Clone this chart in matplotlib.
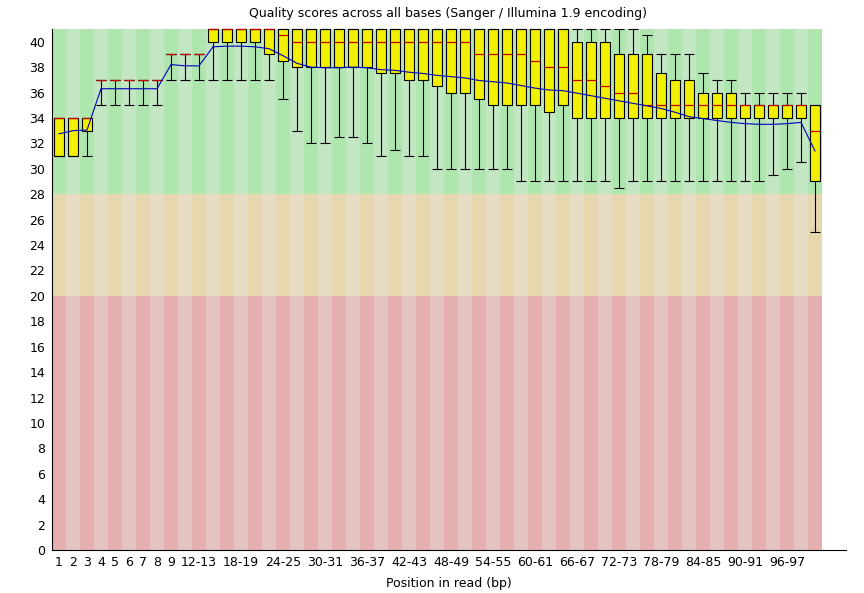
import matplotlib
matplotlib.use("Agg")
import matplotlib.pyplot as plt
import numpy as np

# etichette delle posizioni (1..9 singole, poi a coppie, ultima 100)
POSIZIONI = [str(i) for i in range(1, 10)] + [f"{a}-{a + 1}" for a in range(10, 99, 2)] + ["100"]

# percentili per posizione
P10 = [31, 31, 31, 35, 35, 35, 35, 35, 37, 37, 37, 37, 37, 37, 37, 37, 35.5, 33, 32, 32,
       32.5, 32.5, 32, 31, 31.5, 31, 31, 30, 30, 30, 30, 30, 30, 29, 29, 29, 29, 29, 29, 29,
       28.5, 29, 29, 29, 29, 29, 29, 29, 29, 29, 29, 29.5, 30, 30.5, 25]
Q1 = [31, 31, 33, 37, 37, 37, 37, 37, 39, 39, 39, 40, 40, 40, 40, 39, 38.5, 38, 38, 38,
      38, 38, 38, 37.5, 37.5, 37, 37, 36.5, 36, 36, 35.5, 35, 35, 35, 35, 34.5, 35, 34, 34, 34,
      34, 34, 34, 34, 34, 34, 34, 34, 34, 34, 34, 34, 34, 34, 29]
MEDIANA = [34, 34, 34, 37, 37, 37, 37, 37, 39, 39, 39, 41, 41, 41, 41, 41, 40.5, 40, 40, 40,
           40, 40, 40, 40, 40, 40, 40, 40, 40, 40, 39, 39, 39, 39, 38.5, 38, 38, 37, 37, 36.5,
           36, 36, 35, 35, 35, 35, 35, 35, 35, 35, 35, 35, 35, 35, 33]
Q3 = [34, 34, 34, 37, 37, 37, 37, 37, 39, 39, 39, 41, 41, 41, 41, 41, 41, 41, 41, 41,
      41, 41, 41, 41, 41, 41, 41, 41, 41, 41, 41, 41, 41, 41, 41, 41, 41, 40, 40, 40,
      39, 39, 39, 37.5, 37, 37, 36, 36, 36, 35, 35, 35, 35, 35, 35]
P90 = [34, 34, 34, 37, 37, 37, 37, 37, 39, 39, 39, 41, 41, 41, 41, 41, 41, 41, 41, 41,
       41, 41, 41, 41, 41, 41, 41, 41, 41, 41, 41, 41, 41, 41, 41, 41, 41, 41, 41, 41,
       41, 41, 40.5, 39, 39, 39, 37.5, 37, 37, 36, 36, 36, 36, 36, 35]
MEDIA = [32.75, 33.0, 33.05, 36.3, 36.3, 36.3, 36.3, 36.3, 38.2, 38.1, 38.1, 39.6, 39.65, 39.65, 39.6,
         39.45, 38.9, 38.3, 38.0, 37.95, 37.95, 38.0, 37.95, 37.8, 37.75, 37.6, 37.5, 37.35, 37.25, 37.15,
         36.95, 36.85, 36.75, 36.55, 36.35, 36.2, 36.15, 35.95, 35.75, 35.55, 35.35, 35.15, 34.95, 34.75,
         34.45, 34.1, 33.95, 33.8, 33.65, 33.55, 33.5, 33.5, 33.55, 33.65, 31.4]

# fasce di sfondo: (da, a, colore scuro, colore chiaro)
FASCE = [(28, 41, "#afe6af", "#c3e6c3"),
         (20, 28, "#e6d7af", "#e6dcc3"),
         (0, 20, "#e6afaf", "#e6c3c3")]

x = np.arange(len(POSIZIONI))
w = 0.72

fig = plt.figure(figsize=(8.64, 5.93), dpi=100)
ax = fig.add_axes([52 / 864, 1 - 550 / 593, (846 - 52) / 864, (550 - 29) / 593])

for lo, hi, scuro, chiaro in FASCE:
    colori = [scuro if i % 2 == 0 else chiaro for i in x]
    ax.bar(x, hi - lo, bottom=lo, width=1.0, color=colori, linewidth=0, zorder=0)

ax.vlines(x, P10, P90, color="black", lw=0.8, zorder=2)
ax.bar(x, np.array(Q3) - np.array(Q1), bottom=Q1, width=w, color="#f0f000",
       edgecolor="black", linewidth=0.8, zorder=3, clip_on=False)
ax.hlines(P10, x - w / 2, x + w / 2, color="black", lw=0.8, zorder=3.5)
ax.hlines(P90, x - w / 2, x + w / 2, color="black", lw=0.8, zorder=3.5, clip_on=False)
ax.hlines(MEDIANA, x - w / 2, x + w / 2, color="#c80000", lw=0.9, zorder=4, clip_on=False)
ax.plot(x, MEDIA, color="#0000c0", lw=0.8, zorder=5)

ax.set_xlim(-0.5, 54.5 + 24 / 14)
ax.set_ylim(0, 41)
ax.set_yticks(range(0, 41, 2))
mostra = list(range(9)) + list(range(10, 54, 3))
ax.set_xticks(mostra, [POSIZIONI[i] for i in mostra])
ax.tick_params(length=0, labelsize=9, pad=4)
ax.tick_params(axis="y", pad=5)
for s in ["top", "right"]:
    ax.spines[s].set_visible(False)
for s in ["left", "bottom"]:
    ax.spines[s].set_linewidth(0.8)

ax.set_xlabel("Position in read (bp)", fontsize=9, labelpad=6)
fig.text(448 / 864, 1 - 14 / 593, "Quality scores across all bases (Sanger / Illumina 1.9 encoding)",
         ha="center", va="center", fontsize=9)

fig.savefig("out.png", dpi=100)
